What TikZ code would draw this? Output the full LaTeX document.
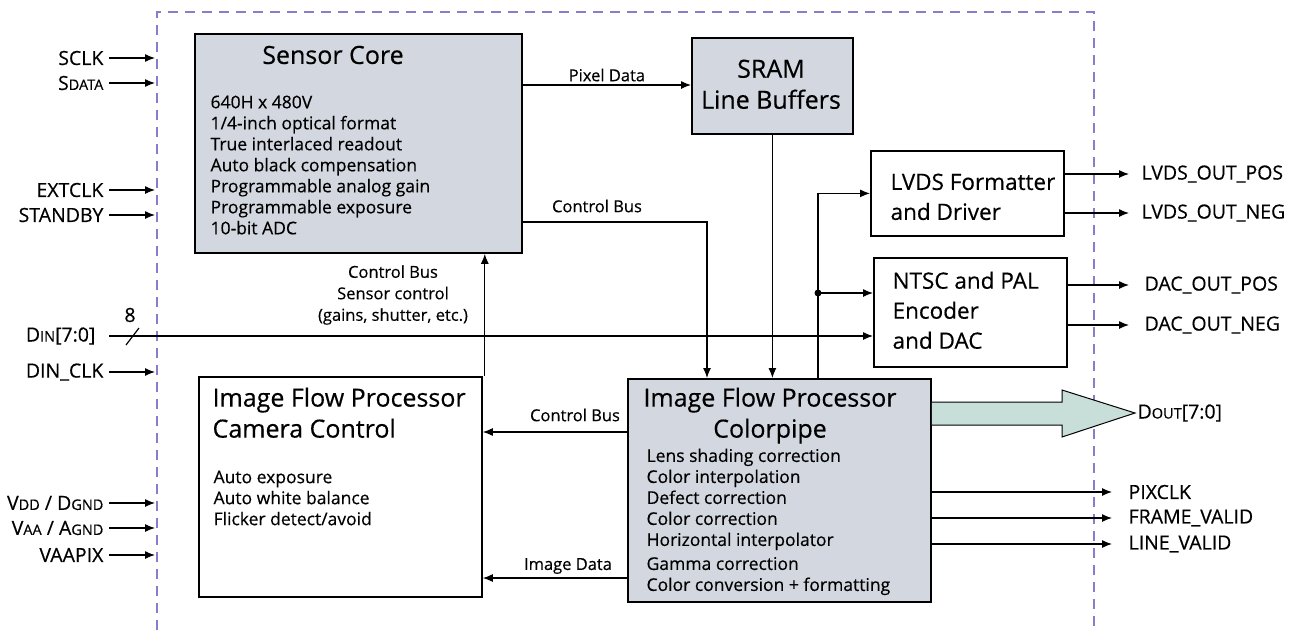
\documentclass[tikz,border=0pt]{standalone}
\usepackage{fontspec}
\setmainfont{Open Sans}[BoldFont={Open Sans}, BoldFeatures={FakeBold=0.4}]
\usetikzlibrary{arrows.meta}
\definecolor{corefill}{RGB}{211,215,223}
\definecolor{doutfill}{RGB}{200,222,216}
\definecolor{frameclr}{RGB}{138,124,200}
\newcommand{\smcap}[1]{{\fontsize{14.5}{15}\selectfont #1}}
\tikzset{every picture/.style={line width=1.2pt}}
\tikzset{
  blk/.style={draw, line width=1.8pt, anchor=north west, inner sep=0pt},
  sig/.style={-{Latex[length=10pt,width=8pt]}},
  pinlbl/.style={font=\fontsize{19.5}{21}\selectfont\bfseries, inner sep=1pt},
  buslbl/.style={font=\fontsize{16.5}{21.5}\selectfont\bfseries, inner sep=1pt},
  ttl/.style={font=\fontsize{25}{31}\selectfont\bfseries, inner sep=0pt},
  subttl/.style={font=\fontsize{22.5}{30}\selectfont\bfseries, inner sep=0pt, align=left, anchor=north west},
  body/.style={font=\fontsize{17.5}{21}\selectfont\bfseries, align=left, inner sep=0pt, anchor=north west},
}

\begin{document}
\begin{tikzpicture}[x=1pt,y=1pt,yscale=-1,xscale=1]
\useasboundingbox (0,0) rectangle (1299,630);

% chip outline
\draw[frameclr, line width=2pt, dash pattern=on 10pt off 7pt] (157,630) -- (157,12) -- (1094,12) -- (1094,630);

% Blocks
\node[blk, fill=corefill, minimum width=327pt, minimum height=219pt] (core) at (194,33) {};
\node[blk, fill=corefill, minimum width=161pt, minimum height=96pt] (sram) at (691,37) {};
\node[blk, minimum width=193pt, minimum height=85pt] (lvds) at (870,150) {};
\node[blk, minimum width=193pt, minimum height=109pt] (ntsc) at (873,257) {};
\node[blk, minimum width=283pt, minimum height=220pt] (cam) at (198,376) {};
\node[blk, fill=corefill, minimum width=303pt, minimum height=223pt] (pipe) at (627,378) {};

% Block texts
\node[ttl] (coreTitle) at (333,55) {Sensor Core};
\node[body] (coreList) at (210,95) {640H x 480V\\1/4-inch optical format\\True interlaced readout\\Auto black compensation\\Programmable analog gain\\Programmable exposure\\10-bit ADC};
\node[ttl, align=center, anchor=north] (sramTitle) at (771,59) {SRAM\\Line Buffers};
\node[subttl] (lvdsTitle) at (890,173) {LVDS Formatter\\and Driver};
\node[subttl] (ntscTitle) at (892,271) {NTSC and PAL\\Encoder\\and DAC};
\node[ttl, align=left, anchor=north west] (camTitle) at (212,387) {Image Flow Processor\\Camera Control};
\node[body] (camList) at (213,470) {Auto exposure\\Auto white balance\\Flicker detect/avoid};
\node[ttl, align=center, anchor=north] (pipeTitle) at (770,387) {Image Flow Processor\\Colorpipe};
\node[body] (pipeList) at (646,448) {Lens shading correction\\Color interpolation\\Defect correction\\Color correction\\Horizontal interpolator\\[3pt]Gamma correction\\Color conversion + formatting};

% Inputs
\foreach \yy/\nm/\txt in {58/sclk/SCLK, 83/sdata/{S\smcap{DATA}}, 190/extclk/EXTCLK, 215/stby/STANDBY, 372/dinclk/DIN\_CLK, 503/vdd/{V\smcap{DD} / D\smcap{GND}}, 528/vaa/{V\smcap{AA} / A\smcap{GND}}, 555/vaapix/VAAPIX}
{
  \node[pinlbl, anchor=east] (in-\nm) at (105,\yy) {\txt};
  \coordinate (pin-\nm) at (155,\yy);
  \draw[sig, shorten <=4pt] (in-\nm.east) -- (pin-\nm);
}

% Data in bus
\node[pinlbl, anchor=east] (din) at (97,336) {D\smcap{IN}[7:0]};
\draw[sig, shorten <=12pt] (din.east) -- (ntsc.west |- din.east);
\draw (126,345) -- (139,328);
\node[pinlbl] (dinWidth) at (130,315) {8};

% Sensor core connections
\draw[sig] (core.north east |- 0,85) -- node[buslbl, above=2pt] (pixlbl) {Pixel Data} (sram.west |- 0,85);
\draw[sig] (core.north east |- 0,222) -| ([xshift=80pt]pipe.north west);
\node[buslbl] (cbusTop) at (597,206) {Control Bus};
\draw[sig] (sram.south) -- (sram.south |- pipe.north);
\draw[sig] ([xshift=2pt]cam.north east) -- ([xshift=2pt]cam.north east |- core.south);
\node[buslbl, align=center] (ctlNote) at (393,295) {Control Bus\\Sensor control\\(gains, shutter, etc.)};

% Colorpipe to encoders
\coordinate (split) at ([xshift=191pt]pipe.north west |- 0,293);
\draw[sig] ([xshift=191pt]pipe.north west) |- (lvds.west);
\draw[sig] (split) -- (ntsc.west |- split);
\fill (split) circle (3.5pt);

% Colorpipe to camera control
\draw[sig] (pipe.west |- 0,432) -- (cam.east |- 0,432);
\node[buslbl] (cbusMid) at (575,415) {Control Bus};
\draw[sig] (pipe.west |- 0,578) -- (cam.east |- 0,578);
\node[buslbl] (imgData) at (568,566) {Image Data};

% Outputs
\foreach \yy/\nm/\txt in {174/lvdsp/LVDS\_OUT\_POS, 213/lvdsn/LVDS\_OUT\_NEG}
{
  \node[pinlbl, anchor=west] (out-\nm) at (1140,\yy) {\txt};
  \draw[sig] (lvds.east |- out-\nm) -- ([xshift=-11pt]out-\nm.west);
}
\foreach \yy/\nm/\txt in {285/dacp/DAC\_OUT\_POS, 325/dacn/DAC\_OUT\_NEG}
{
  \node[pinlbl, anchor=west] (out-\nm) at (1143,\yy) {\txt};
  \draw[sig] (ntsc.east |- out-\nm) -- ([xshift=-14pt]out-\nm.west);
}
\foreach \yy/\nm/\txt in {492/pixclk/PIXCLK, 518/fv/FRAME\_VALID, 544/lv/LINE\_VALID}
{
  \node[pinlbl, anchor=west] (out-\nm) at (1127,\yy) {\txt};
  \draw[sig] (pipe.east |- out-\nm) -- ([xshift=-15pt]out-\nm.west);
}

% Data out bus
\draw[fill=doutfill, line width=1pt] (pipe.east |- 0,402) -- (1062,402) -- (1062,390) -- (1135,413) -- (1062,437) -- (1062,425) -- (pipe.east |- 0,425);
\node[pinlbl, anchor=west] (dout) at (1136,413) {D\smcap{OUT}[7:0]};

\end{tikzpicture}
\end{document}
